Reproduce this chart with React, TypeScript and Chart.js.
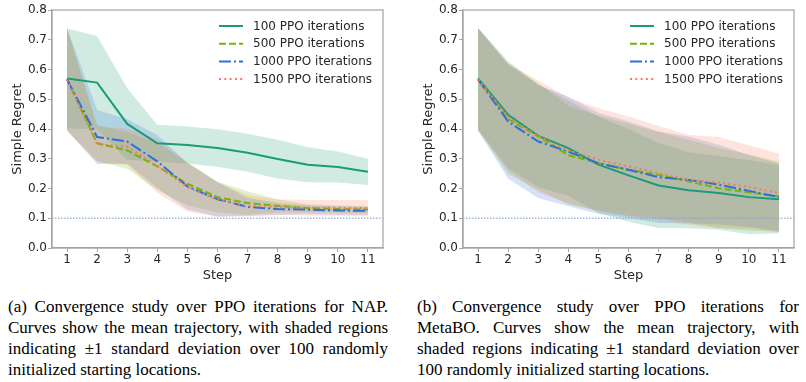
import React, { useEffect, useRef } from 'react';
import { Chart, registerables } from 'chart.js';

Chart.register(...registerables);

// ---------------- data ----------------
const STEPS = ['1', '2', '3', '4', '5', '6', '7', '8', '9', '10', '11'];
const SERIES_LABELS = ['100 PPO iterations', '500 PPO iterations', '1000 PPO iterations', '1500 PPO iterations'];
const THRESHOLD = 0.1;

// (a) NAP
const NAP_MEAN_100 = [0.570, 0.556, 0.417, 0.352, 0.346, 0.336, 0.320, 0.299, 0.280, 0.272, 0.256];
const NAP_STD_100 = [0.168, 0.157, 0.120, 0.062, 0.062, 0.063, 0.064, 0.065, 0.059, 0.052, 0.044];
const NAP_MEAN_500 = [0.567, 0.352, 0.328, 0.274, 0.216, 0.171, 0.151, 0.142, 0.134, 0.131, 0.129];
const NAP_STD_500 = [0.172, 0.060, 0.062, 0.080, 0.072, 0.052, 0.040, 0.022, 0.013, 0.012, 0.012];
const NAP_MEAN_1000 = [0.567, 0.373, 0.358, 0.291, 0.207, 0.164, 0.138, 0.131, 0.129, 0.126, 0.125];
const NAP_STD_1000 = [0.172, 0.091, 0.075, 0.089, 0.078, 0.058, 0.030, 0.020, 0.015, 0.014, 0.014];
const NAP_MEAN_1500 = [0.567, 0.349, 0.341, 0.276, 0.205, 0.162, 0.142, 0.138, 0.135, 0.135, 0.134];
const NAP_STD_1500 = [0.172, 0.060, 0.060, 0.090, 0.082, 0.058, 0.035, 0.025, 0.027, 0.027, 0.027];

// (b) MetaBO
const META_MEAN_100 = [0.570, 0.448, 0.377, 0.336, 0.280, 0.244, 0.210, 0.194, 0.185, 0.171, 0.164];
const META_STD_100 = [0.170, 0.180, 0.172, 0.160, 0.162, 0.156, 0.143, 0.128, 0.124, 0.125, 0.114];
const META_MEAN_500 = [0.567, 0.434, 0.375, 0.312, 0.285, 0.263, 0.246, 0.224, 0.201, 0.187, 0.173];
const META_STD_500 = [0.172, 0.185, 0.180, 0.165, 0.160, 0.155, 0.145, 0.140, 0.135, 0.128, 0.118];
const META_MEAN_1000 = [0.567, 0.425, 0.358, 0.324, 0.285, 0.263, 0.238, 0.229, 0.213, 0.192, 0.171];
const META_STD_1000 = [0.172, 0.192, 0.190, 0.184, 0.170, 0.162, 0.154, 0.146, 0.134, 0.121, 0.114];
const META_MEAN_1500 = [0.567, 0.440, 0.375, 0.328, 0.297, 0.274, 0.252, 0.229, 0.220, 0.205, 0.185];
const META_STD_1500 = [0.172, 0.180, 0.188, 0.178, 0.173, 0.168, 0.158, 0.151, 0.153, 0.140, 0.132];

const CAPTION_A = [
  '(a) Convergence study over PPO iterations for NAP.',
  'Curves show the mean trajectory, with shaded regions',
  'indicating \u00b11 standard deviation over 100 randomly',
  'initialized starting locations.',
];
const CAPTION_B = [
  '(b) Convergence study over PPO iterations for',
  'MetaBO. Curves show the mean trajectory, with',
  'shaded regions indicating \u00b11 standard deviation over',
  '100 randomly initialized starting locations.',
];

// ---------------- styles ----------------
const COLORS = ['#1a9c74', '#70b800', '#2f6fd9', '#fa7a55'];
const DASHES: number[][] = [[], [7, 3], [12, 3, 2, 3], [2, 3.3]];
const FONT = 'DejaVu Sans';
const TEXT = '#262626';
const SPINE = '#a6a6a6';

function rgba(hex: string, a: number) {
  const n = parseInt(hex.slice(1), 16);
  return `rgba(${(n >> 16) & 255},${(n >> 8) & 255},${n & 255},${a})`;
}

const decorPlugin = {
  id: 'decor',
  afterDatasetsDraw(chart: any) {
    const { ctx, chartArea } = chart;
    const y = chart.scales.y.getPixelForValue(THRESHOLD);
    ctx.save();
    ctx.strokeStyle = 'rgba(130,160,205,0.75)';
    ctx.lineWidth = 1.5;
    ctx.setLineDash([1.5, 1.5]);
    ctx.beginPath();
    ctx.moveTo(chartArea.left, y);
    ctx.lineTo(chartArea.right, y);
    ctx.stroke();
    ctx.restore();
  },
  afterDraw(chart: any) {
    const { ctx, chartArea } = chart;
    ctx.save();
    ctx.strokeStyle = SPINE;
    ctx.lineWidth = 1.25;
    ctx.setLineDash([]);
    ctx.strokeRect(chartArea.left, chartArea.top, chartArea.right - chartArea.left, chartArea.bottom - chartArea.top);
    // legend
    const ds = chart.data.datasets.slice(0, SERIES_LABELS.length);
    ds.forEach((d: any, i: number) => {
      const y = chartArea.top + 16 + i * 17.7;
      const x0 = chartArea.right - 164;
      ctx.strokeStyle = d.borderColor;
      ctx.lineWidth = 2;
      ctx.setLineDash(d.borderDash || []);
      ctx.beginPath();
      ctx.moveTo(x0, y);
      ctx.lineTo(x0 + 24, y);
      ctx.stroke();
      ctx.setLineDash([]);
      ctx.fillStyle = TEXT;
      ctx.font = `12px "${FONT}"`;
      ctx.textBaseline = 'middle';
      ctx.textAlign = 'left';
      ctx.fillText(d.label, x0 + 34, y + 0.5);
    });
    ctx.restore();
  },
};

function RegretChart({ means, stds, width, padRight }: { means: number[][]; stds: number[][]; width: number; padRight: number }) {
  const ref = useRef<HTMLCanvasElement>(null);
  useEffect(() => {
    const lines = means.map((m, i) => ({
      label: SERIES_LABELS[i],
      data: m,
      borderColor: COLORS[i],
      backgroundColor: COLORS[i],
      borderWidth: 2,
      borderDash: DASHES[i],
      pointRadius: 0,
      tension: 0,
      fill: false,
      order: 4 - i,
    }));
    const bands: any[] = [];
    means.forEach((m, i) => {
      const loIdx = lines.length + bands.length;
      bands.push({
        label: '_lo',
        data: m.map((v, j) => v - stds[i][j]),
        borderColor: 'rgba(0,0,0,0)',
        borderWidth: 0,
        pointRadius: 0,
        tension: 0,
        fill: false,
        order: 30 - 2 * i,
      });
      bands.push({
        label: '_hi',
        data: m.map((v, j) => v + stds[i][j]),
        borderColor: 'rgba(0,0,0,0)',
        borderWidth: 0,
        pointRadius: 0,
        tension: 0,
        fill: loIdx,
        backgroundColor: rgba(COLORS[i], 0.2),
        order: 29 - 2 * i,
      });
    });
    const chart = new Chart(ref.current as HTMLCanvasElement, {
      type: 'line',
      data: { labels: STEPS, datasets: [...lines, ...bands] as any },
      options: {
        animation: false,
        responsive: false,
        events: [],
        layout: { padding: { left: 0, right: padRight, top: 10, bottom: 0 } },
        plugins: { legend: { display: false }, tooltip: { enabled: false } },
        scales: {
          x: {
            type: 'category',
            offset: true,
            afterFit: (s: any) => { s.height = 42; },
            grid: { display: true, drawOnChartArea: false, drawTicks: true, tickLength: 4, color: SPINE, lineWidth: 1 },
            border: { display: true, color: SPINE, width: 1.25 },
            ticks: { color: TEXT, font: { family: FONT, size: 12 }, padding: 1, maxRotation: 0, autoSkip: false },
            title: { display: true, text: 'Step', color: TEXT, font: { family: FONT, size: 13 }, padding: { top: 0, bottom: 7 } },
          },
          y: {
            min: 0,
            max: 0.8,
            afterFit: (s: any) => { s.width = 52; },
            grid: { display: true, drawOnChartArea: false, drawTicks: true, tickLength: 4, color: SPINE, lineWidth: 1 },
            border: { display: true, color: SPINE, width: 1.25 },
            ticks: {
              stepSize: 0.1,
              color: TEXT,
              font: { family: FONT, size: 12 },
              padding: 1,
              callback: (v: any) => Number(v).toFixed(1),
            },
            title: { display: true, text: 'Simple Regret', color: TEXT, font: { family: FONT, size: 13 }, padding: { top: 9.5, bottom: 0 } },
          },
        },
      } as any,
      plugins: [decorPlugin],
    });
    return () => chart.destroy();
  }, []);
  return <canvas ref={ref} width={width} height={290} style={{ display: 'block', width, height: 290 }} />;
}

function Caption({ lines, left, width }: { lines: string[]; left: number; width: number }) {
  return (
    <div
      style={{
        position: 'absolute',
        left,
        top: 296,
        width,
        fontFamily: '"Liberation Serif", "Times New Roman", serif',
        fontSize: 17,
        lineHeight: '21px',
        color: '#000',
      }}
    >
      {lines.map((l, i) => (
        <div
          key={i}
          style={
            i < lines.length - 1
              ? { textAlign: 'justify', textAlignLast: 'justify' as any }
              : { textAlign: 'left' }
          }
        >
          {l}
        </div>
      ))}
    </div>
  );
}

export default function App() {
  return (
    <div style={{ position: 'fixed', left: 0, top: 0, width: 806, height: 382, background: '#fff', overflow: 'hidden' }}>
      <div style={{ position: 'absolute', left: 0, top: 0 }}>
        <RegretChart
          means={[NAP_MEAN_100, NAP_MEAN_500, NAP_MEAN_1000, NAP_MEAN_1500]}
          stds={[NAP_STD_100, NAP_STD_500, NAP_STD_1000, NAP_STD_1500]}
          width={400}
          padRight={17}
        />
      </div>
      <div style={{ position: 'absolute', left: 411, top: 0 }}>
        <RegretChart
          means={[META_MEAN_100, META_MEAN_500, META_MEAN_1000, META_MEAN_1500]}
          stds={[META_STD_100, META_STD_500, META_STD_1000, META_STD_1500]}
          width={395}
          padRight={12}
        />
      </div>
      <Caption lines={CAPTION_A} left={8} width={380} />
      <Caption lines={CAPTION_B} left={417} width={382} />
    </div>
  );
}
